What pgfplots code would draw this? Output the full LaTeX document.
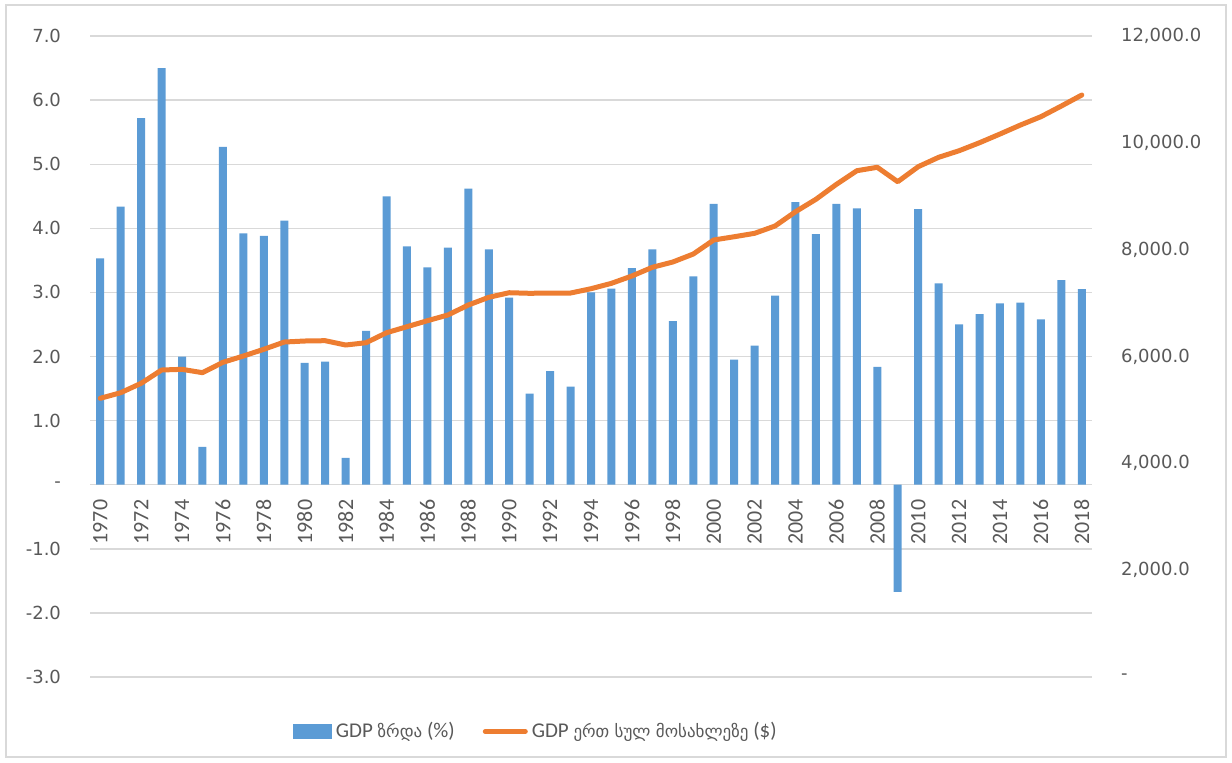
\documentclass[border=0pt]{standalone}
\usepackage{fontspec}
\setmainfont{Carlito}
\newfontfamily\geo{DejaVu Sans}
\newfontfamily\tickfont{DejaVu Sans}
\usepackage{pgfplots}
\usepackage{pgfplotstable}
\pgfplotsset{compat=1.18}
\definecolor{barblue}{HTML}{5B9BD5}
\definecolor{lineorange}{HTML}{ED7D31}
\definecolor{gridgray}{HTML}{D9D9D9}
\definecolor{txtgray}{HTML}{595959}

\pgfplotstableread{
year growth
1970 3.53
1971 4.34
1972 5.72
1973 6.50
1974 2.00
1975 0.59
1976 5.27
1977 3.92
1978 3.88
1979 4.12
1980 1.90
1981 1.92
1982 0.42
1983 2.40
1984 4.50
1985 3.72
1986 3.39
1987 3.70
1988 4.62
1989 3.67
1990 2.92
1991 1.42
1992 1.77
1993 1.53
1994 3.00
1995 3.06
1996 3.38
1997 3.67
1998 2.55
1999 3.25
2000 4.38
2001 1.95
2002 2.17
2003 2.95
2004 4.41
2005 3.91
2006 4.38
2007 4.31
2008 1.84
2009 -1.67
2010 4.30
2011 3.14
2012 2.50
2013 2.66
2014 2.83
2015 2.84
2016 2.58
2017 3.19
2018 3.05
}\growthtable

\pgfplotstableread{
year gdp
1970 5217
1971 5322
1972 5498
1973 5747
1974 5760
1975 5697
1976 5891
1977 6009
1978 6135
1979 6271
1980 6290
1981 6296
1982 6215
1983 6258
1984 6445
1985 6558
1986 6670
1987 6777
1988 6964
1989 7108
1990 7194
1991 7183
1992 7188
1993 7188
1994 7269
1995 7370
1996 7507
1997 7670
1998 7769
1999 7918
2000 8181
2001 8242
2002 8306
2003 8443
2004 8710
2005 8943
2006 9223
2007 9478
2008 9542
2009 9272
2010 9553
2011 9729
2012 9852
2013 10002
2014 10165
2015 10333
2016 10489
2017 10689
2018 10895
}\gdptable

\begin{document}
\begin{tikzpicture}
\useasboundingbox (0,0) rectangle (616pt,381pt);
\draw[gridgray, line width=0.7pt] (3pt,2.5pt) rectangle (613pt,378.5pt);

\begin{axis}[
  at={(45pt,42.5pt)}, anchor=south west,
  scale only axis, width=501pt, height=320.5pt,
  xmin=1969.5, xmax=2018.5, ymin=-3, ymax=7,
  axis x line*=middle, axis y line*=left,
  hide obscured x ticks=false, hide obscured y ticks=false,
  x axis line style={gridgray, line width=0.7pt},
  y axis line style={draw=none},
  major tick length=0pt,
  ymajorgrids, grid style={gridgray, line width=0.7pt},
  ytick={-3,-2,-1,0,1,2,3,4,5,6,7},
  yticklabels={-3.0,-2.0,-1.0,-,1.0,2.0,3.0,4.0,5.0,6.0,7.0},
  yticklabel style={font=\tickfont\fontsize{9}{10}\selectfont, text=txtgray, anchor=east, xshift=-11pt},
  xtick={1970,1972,...,2018},
  xticklabels={1970,1972,1974,1976,1978,1980,1982,1984,1986,1988,1990,1992,1994,1996,1998,2000,2002,2004,2006,2008,2010,2012,2014,2016,2018},
  xticklabel style={font=\fontsize{11}{12}\selectfont, text=txtgray, rotate=90, anchor=east},
  xticklabel shift=4pt,
]
\addplot[ybar, bar width=4pt, fill=barblue, draw=none] table[x=year, y=growth] {\growthtable};
\end{axis}

\begin{axis}[
  at={(45pt,42.5pt)}, anchor=south west,
  scale only axis, width=501pt, height=320.5pt,
  xmin=1969.5, xmax=2018.5, ymin=0, ymax=12000,
  axis y line*=right, axis x line=none,
  scaled y ticks=false,
  y axis line style={draw=none},
  major tick length=0pt,
  ytick={0,2000,4000,6000,8000,10000,12000},
  yticklabels={-,{2,000.0},{4,000.0},{6,000.0},{8,000.0},{10,000.0},{12,000.0}},
  yticklabel style={font=\tickfont\fontsize{9}{10}\selectfont, text=txtgray, anchor=west, xshift=11pt},
  legend columns=2,
  legend style={draw=none, fill=none, at={(0.446,-0.085)}, anchor=center,
    font=\fontsize{10.5}{12}\selectfont, text=txtgray,
    /tikz/every even column/.append style={column sep=12pt},
    inner sep=0pt},
]
\addlegendimage{legend image code/.code={\fill[barblue] (0pt,-3.5pt) rectangle (19pt,3.5pt);}}
\addlegendentry{GDP {\geo\fontsize{8.5}{12}\selectfont ზრდა} (\%)}
\addplot[lineorange, line width=2.5pt, line join=round, line cap=round,
  legend image code/.code={\draw[lineorange, line width=2.5pt, line cap=round] (0pt,0pt) -- (20pt,0pt);}]
  table[x=year, y=gdp] {\gdptable};
\addlegendentry{GDP {\geo\fontsize{8.5}{12}\selectfont ერთ სულ მოსახლეზე} (\$)}
\end{axis}
\end{tikzpicture}
\end{document}
